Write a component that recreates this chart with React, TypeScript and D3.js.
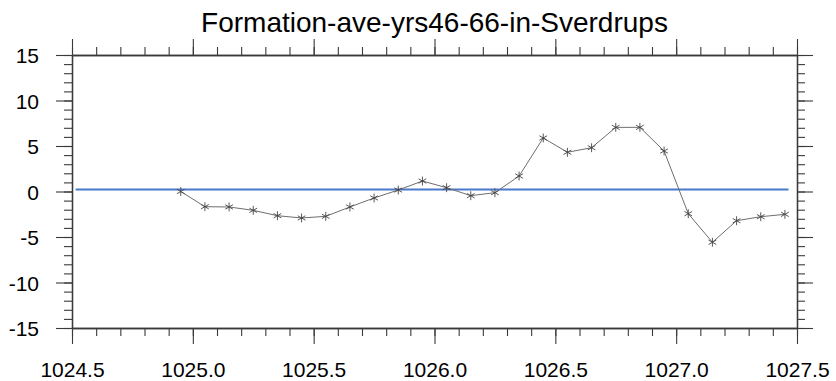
import { useEffect, useRef } from 'react';
import * as d3 from 'd3';

// density classes (sigma bins) and the formation rate in Sverdrups
const density = [
	1024.95, 1025.05, 1025.15, 1025.25, 1025.35, 1025.45, 1025.55, 1025.65, 1025.75, 1025.85,
	1025.95, 1026.05, 1026.15, 1026.25, 1026.35, 1026.45, 1026.55, 1026.65, 1026.75, 1026.85,
	1026.95, 1027.05, 1027.15, 1027.25, 1027.35, 1027.45,
];
const formation = [
	0.0, -1.67, -1.7, -2.07, -2.66, -2.91, -2.73, -1.7, -0.71, 0.16,
	1.15, 0.42, -0.46, -0.13, 1.7, 5.88, 4.31, 4.81, 7.05, 7.05,
	4.45, -2.44, -5.58, -3.21, -2.77, -2.51,
];
// horizontal reference line (x extent and level)
const refX = [1024.515, 1027.465];
const refLevel = 0.22;

const xTicks = [1024.5, 1025.0, 1025.5, 1026.0, 1026.5, 1027.0, 1027.5];
const yTicks = [-15, -10, -5, 0, 5, 10, 15];
const title = 'Formation-ave-yrs46-66-in-Sverdrups';

const W = 836;
const H = 381;
const FONT = '"Liberation Sans", Arial, Helvetica, sans-serif';

export default function App() {
	const svgRef = useRef<SVGSVGElement>(null);

	useEffect(() => {
		if (!svgRef.current) return;
		const svg = d3.select(svgRef.current);
		svg.selectAll('*').remove();

		const margin = { top: 55, right: 39, bottom: 53, left: 72 };
		const x = d3.scaleLinear().domain([1024.5, 1027.5]).range([margin.left, W - margin.right]);
		const y = d3.scaleLinear().domain([-15, 15]).range([H - margin.bottom, margin.top]);
		const axisColor = '#3a3a3a';

		const minorX = d3.range(0, 31).map((i) => 1024.5 + i * 0.1);
		const minorY = d3.range(-15, 16);

		// ticks point outward on all four sides
		const drawTicks = (
			axis: d3.Axis<d3.NumberValue>,
			transform: string,
			values: number[],
			size: number,
			labels: boolean
		) => {
			const g = svg
				.append('g')
				.attr('transform', transform)
				.call(axis.tickValues(values).tickSize(size).tickSizeOuter(0).tickPadding(labels ? 16 : 0));
			g.select('.domain').attr('stroke', axisColor).attr('stroke-width', 1.3);
			g.selectAll('.tick line').attr('stroke', axisColor).attr('stroke-width', 1.1);
			if (labels) {
				g.selectAll('text').attr('font-family', FONT).attr('font-size', 21).attr('fill', '#000');
			} else {
				g.selectAll('text').remove();
			}
			return g;
		};

		const yb = H - margin.bottom;
		drawTicks(d3.axisBottom(x), `translate(0,${yb})`, minorX, 8, false);
		drawTicks(d3.axisTop(x), `translate(0,${margin.top})`, minorX, 8, false);
		drawTicks(d3.axisLeft(y), `translate(${margin.left},0)`, minorY, 8, false);
		drawTicks(d3.axisRight(y), `translate(${W - margin.right},0)`, minorY, 8, false);

		const bx = drawTicks(
			d3.axisBottom(x).tickFormat((d) => (d as number).toFixed(1)),
			`translate(0,${yb})`,
			xTicks,
			16,
			true
		);
		bx.selectAll('text').attr('dy', '0.71em').attr('y', 34);
		drawTicks(d3.axisTop(x), `translate(0,${margin.top})`, xTicks, 16, false);
		const ly = drawTicks(
			d3.axisLeft(y).tickFormat((d) => String(d)),
			`translate(${margin.left},0)`,
			yTicks,
			16,
			true
		);
		ly.selectAll('text').attr('x', -33).attr('dy', '0.36em');
		drawTicks(d3.axisRight(y), `translate(${W - margin.right},0)`, yTicks, 16, false);

		// reference line
		svg
			.append('line')
			.attr('x1', x(refX[0]))
			.attr('x2', x(refX[1]))
			.attr('y1', y(refLevel))
			.attr('y2', y(refLevel))
			.attr('stroke', '#4a78cc')
			.attr('stroke-width', 2);

		const pts = density.map((d, i) => [d, formation[i]] as [number, number]);
		const line = d3
			.line<[number, number]>()
			.x((d) => x(d[0]))
			.y((d) => y(d[1]));

		svg
			.append('path')
			.datum(pts)
			.attr('d', line)
			.attr('fill', 'none')
			.attr('stroke', '#6e6e6e')
			.attr('stroke-width', 1);

		const sym = d3.symbol().type(d3.symbolAsterisk).size(55);
		svg
			.selectAll('.mk')
			.data(pts)
			.enter()
			.append('path')
			.attr('class', 'mk')
			.attr('transform', (d) => `translate(${x(d[0])},${y(d[1])})`)
			.attr('d', sym)
			.attr('fill', 'none')
			.attr('stroke', '#444')
			.attr('stroke-width', 0.9);

		// title
		svg
			.append('text')
			.attr('x', (margin.left + W - margin.right) / 2)
			.attr('y', 32)
			.attr('text-anchor', 'middle')
			.attr('font-family', FONT)
			.attr('font-size', 28)
			.attr('fill', '#000')
			.text(title);
	}, []);

	return (
		<div style={{ position: 'absolute', left: 0, top: 0, width: W, height: H, background: '#fff' }}>
			<svg ref={svgRef} width={W} height={H}></svg>
		</div>
	);
}
